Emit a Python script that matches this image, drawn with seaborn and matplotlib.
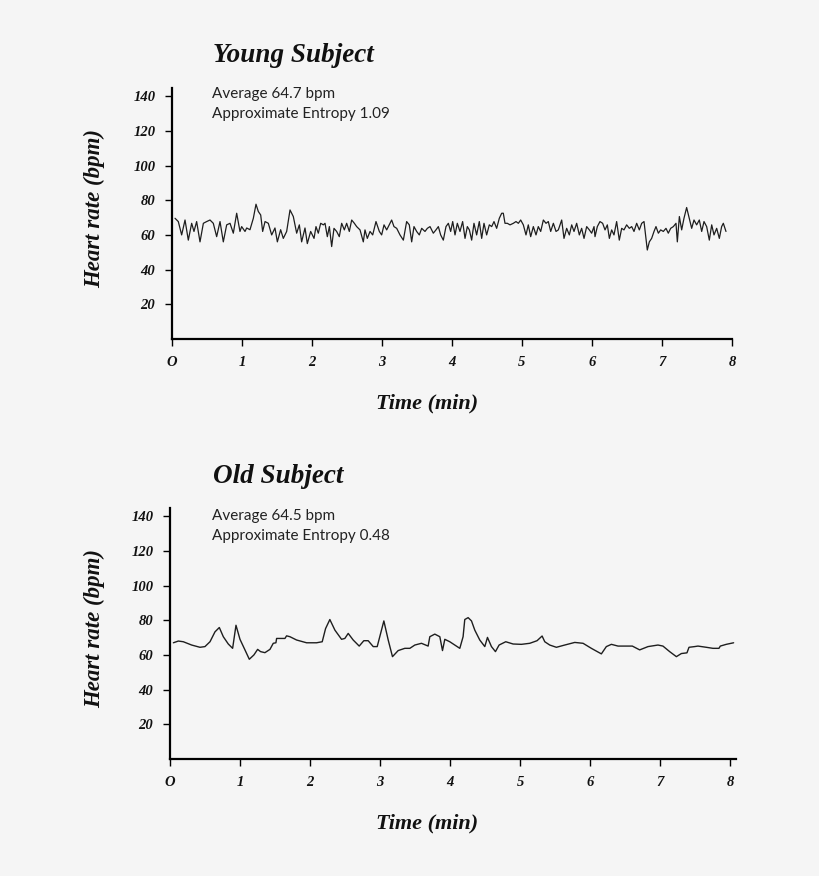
import matplotlib
matplotlib.use("Agg")
import matplotlib.pyplot as plt
import seaborn as sns
import pandas as pd

# ---------------- data ----------------
young_time = [
    0.043, 0.090, 0.138, 0.186, 0.233, 0.281, 0.314, 0.352, 0.400, 0.448, 0.495, 0.543,
    0.590, 0.638, 0.686, 0.733, 0.781, 0.829, 0.876, 0.924, 0.971, 0.995, 1.043, 1.067,
    1.114, 1.162, 1.200, 1.233, 1.267, 1.295, 1.329, 1.376, 1.424, 1.471, 1.505, 1.552,
    1.590, 1.638, 1.686, 1.733, 1.781, 1.819, 1.852, 1.900, 1.933, 1.981, 2.029,
    2.057, 2.090, 2.124, 2.162, 2.186, 2.219, 2.248, 2.281, 2.314, 2.352, 2.390, 2.424,
    2.462, 2.495, 2.533, 2.567, 2.605, 2.638, 2.686, 2.733, 2.757, 2.790, 2.829, 2.867,
    2.914, 2.962, 2.995, 3.029, 3.067, 3.114, 3.138, 3.171, 3.210, 3.257, 3.305, 3.352,
    3.390, 3.424, 3.457, 3.495, 3.533, 3.567, 3.614, 3.648, 3.686, 3.733, 3.771, 3.805,
    3.838, 3.876, 3.914, 3.948, 3.981,
    4.010, 4.043, 4.076, 4.114, 4.152, 4.186, 4.219, 4.248, 4.281, 4.314, 4.352, 4.390,
    4.424, 4.457, 4.495, 4.533, 4.567, 4.600, 4.638, 4.676, 4.710, 4.733, 4.757, 4.790,
    4.829, 4.876, 4.914, 4.948, 4.981, 5.019, 5.057, 5.090, 5.124, 5.162, 5.200, 5.233,
    5.267, 5.305, 5.343, 5.376, 5.410, 5.448, 5.486, 5.519, 5.567, 5.600, 5.638, 5.676,
    5.710, 5.743, 5.781, 5.819, 5.852, 5.886, 5.924, 5.962, 5.995, 6.029,
    6.043, 6.076, 6.114, 6.152, 6.186, 6.219, 6.248, 6.281, 6.314, 6.352, 6.390, 6.424,
    6.457, 6.495, 6.533, 6.567, 6.600, 6.638, 6.676, 6.710, 6.743, 6.771, 6.790, 6.819,
    6.852, 6.886, 6.914, 6.948, 6.981, 7.019, 7.057, 7.090, 7.124, 7.162, 7.200, 7.219,
    7.248, 7.281, 7.314, 7.352, 7.390, 7.424, 7.457, 7.495, 7.533, 7.567, 7.600, 7.638,
    7.676, 7.710, 7.743, 7.781, 7.819, 7.852, 7.876, 7.914,
]
young_hr = [
    69.6, 67.7, 60.0, 68.6, 57.0, 66.7, 62.0, 67.7, 56.0, 66.7, 67.7, 68.6,
    66.7, 59.0, 67.7, 56.0, 65.8, 66.7, 61.0, 72.5, 62.0, 64.8, 62.0, 64.0,
    63.0, 69.6, 77.7, 73.5, 71.5, 62.0, 67.7, 66.7, 60.0, 64.0, 56.0, 63.0,
    58.0, 62.0, 74.4, 70.6, 61.0, 65.8, 56.0, 64.0, 55.0, 62.0, 58.0,
    64.8, 61.0, 66.7, 65.8, 66.7, 59.0, 64.8, 53.3, 63.8, 62.0, 59.0, 66.7,
    62.9, 66.7, 62.0, 68.6, 66.7, 64.8, 62.9, 56.0, 62.9, 58.0, 62.0, 60.0,
    67.7, 62.0, 60.0, 65.8, 62.9, 66.7, 68.6, 64.8, 63.8, 60.0, 57.0, 67.7,
    65.8, 56.0, 64.8, 62.0, 60.0, 63.8, 62.0, 63.8, 64.8, 61.0, 62.9, 64.8,
    60.0, 57.0, 64.8, 66.7, 62.0,
    67.7, 60.0, 66.7, 62.0, 67.7, 58.0, 64.8, 62.9, 57.0, 66.7, 60.0, 67.7,
    58.0, 66.7, 60.0, 65.8, 64.8, 67.7, 63.8, 69.6, 72.5, 72.5, 66.7, 66.7,
    65.8, 66.7, 67.7, 66.7, 68.6, 65.8, 60.0, 65.8, 59.0, 64.8, 60.0, 64.8,
    62.0, 68.6, 66.7, 67.7, 62.0, 66.7, 62.0, 62.9, 68.6, 58.0, 63.8, 60.0,
    65.8, 62.0, 66.7, 60.0, 63.8, 58.0, 64.8, 62.9, 61.0, 64.8,
    59.0, 64.8, 67.7, 66.7, 62.9, 65.8, 58.0, 62.9, 60.0, 67.7, 57.0, 63.8,
    62.9, 65.8, 63.8, 64.8, 62.0, 66.7, 62.9, 66.7, 67.7, 58.0, 51.3, 56.0,
    58.0, 62.0, 64.8, 61.0, 62.9, 62.0, 63.8, 61.0, 63.8, 64.8, 66.7, 56.0,
    70.6, 62.9, 69.6, 75.8, 69.6, 63.8, 68.6, 65.8, 68.6, 62.0, 67.7, 64.8,
    57.0, 65.8, 60.0, 63.8, 58.0, 64.8, 66.7, 62.0,
]

old_time = [
    0.048, 0.119, 0.190, 0.309, 0.428, 0.499, 0.571, 0.642, 0.704, 0.761, 0.832, 0.894,
    0.942, 0.999, 1.070, 1.132, 1.198, 1.251, 1.293, 1.355, 1.427, 1.474, 1.512, 1.522,
    1.593, 1.641, 1.664, 1.712, 1.807, 1.950, 2.092, 2.173, 2.221, 2.282, 2.354, 2.449,
    2.496, 2.544, 2.615, 2.701, 2.767, 2.829, 2.901, 2.958, 3.053, 3.115, 3.176, 3.257,
    3.352, 3.424, 3.495, 3.590, 3.685, 3.709, 3.780, 3.852, 3.890, 3.923, 3.994, 4.137,
    4.184, 4.208, 4.256, 4.304, 4.351, 4.422, 4.494, 4.532, 4.589, 4.646, 4.698, 4.793,
    4.898, 5.016, 5.136, 5.240, 5.312, 5.350, 5.421, 5.516, 5.635, 5.778, 5.897, 6.015,
    6.158, 6.229, 6.301, 6.396, 6.515, 6.600, 6.705, 6.824, 6.966, 7.037, 7.133, 7.229,
    7.300, 7.380, 7.409, 7.489, 7.537, 7.656, 7.751, 7.837, 7.856, 7.941, 8.046,
]
old_hr = [
    67.0, 68.0, 67.6, 65.7, 64.4, 64.8, 67.6, 73.3, 75.8, 70.5, 66.3, 63.8,
    77.1, 69.0, 62.9, 57.5, 60.0, 63.2, 61.9, 61.3, 63.2, 66.7, 67.0, 69.5,
    69.5, 69.5, 71.0, 70.5, 68.6, 67.0, 67.0, 67.6, 75.2, 80.4, 74.3, 69.0,
    69.5, 72.4, 68.6, 65.1, 68.2, 68.2, 64.8, 64.8, 79.6, 68.6, 59.0, 62.5,
    63.8, 63.8, 65.7, 66.7, 65.1, 70.5, 72.0, 70.5, 62.5, 69.0, 67.6, 63.8,
    70.5, 80.4, 81.5, 79.6, 74.3, 68.6, 64.8, 70.1, 64.8, 61.9, 65.7, 67.6,
    66.3, 66.1, 66.7, 68.2, 70.9, 67.6, 65.7, 64.4, 65.7, 67.2, 66.7, 63.8,
    60.6, 64.8, 66.1, 65.1, 65.1, 65.1, 62.9, 64.8, 65.7, 65.1, 61.9, 59.0,
    60.8, 61.2, 64.4, 64.8, 65.1, 64.4, 63.8, 63.8, 65.1, 66.1, 67.0,
]

titles = ["Young Subject", "Old Subject"]
notes = [["Average 64.7 bpm", "Approximate Entropy 1.09"],
         ["Average 64.5 bpm", "Approximate Entropy 0.48"]]
y_ticks = [20, 40, 60, 80, 100, 120, 140]
x_ticks = [0, 1, 2, 3, 4, 5, 6, 7, 8]
x_ticklabels = ["O", "1", "2", "3", "4", "5", "6", "7", "8"]

# ---------------- style ----------------
BG = "#f5f5f5"
sns.set_theme(style="white")
plt.rcParams["font.family"] = ["Liberation Serif", "DejaVu Serif"]
plt.rcParams["figure.facecolor"] = BG
plt.rcParams["axes.facecolor"] = BG

W, H = 820, 876
fig = plt.figure(figsize=(W / 100, H / 100), dpi=100)

serif = dict(family=["Liberation Serif", "DejaVu Serif"], weight="bold", style="italic")
sans = dict(family=["Lato", "DejaVu Sans"])

def px(x, y):
    return x / W, 1 - y / H

panels = [
    dict(t=young_time, hr=young_hr, left=172, right=732, bottom=339, xmax=8.0,
         title_y=62, note_y=98, ylab_y=209, xlab_y=403, lw=0.9),
    dict(t=old_time, hr=old_hr, left=170, right=736, bottom=759, xmax=8.08,
         title_y=483, note_y=520, ylab_y=629, xlab_y=823, lw=1.0),
]

for i, p in enumerate(panels):
    top = p["bottom"] - 251
    ax = fig.add_axes([p["left"] / W, 1 - p["bottom"] / H,
                       (p["right"] - p["left"]) / W, (p["bottom"] - top) / H])
    df = pd.DataFrame({"Time (min)": p["t"], "Heart rate (bpm)": p["hr"]})
    sns.lineplot(data=df, x="Time (min)", y="Heart rate (bpm)", ax=ax,
                 color="#1e1e1e", linewidth=p["lw"], estimator=None)
    ax.set_xlim(0, p["xmax"])
    ax.set_ylim(0, 144.7)
    ax.set_xlabel("")
    ax.set_ylabel("")
    for s in ["top", "right"]:
        ax.spines[s].set_visible(False)
    for s in ["left", "bottom"]:
        ax.spines[s].set_color("black")
        ax.spines[s].set_linewidth(1.6)
    ax.set_yticks(y_ticks)
    ax.set_yticklabels([str(v) for v in y_ticks])
    ax.set_xticks(x_ticks)
    ax.set_xticklabels(x_ticklabels)
    ax.tick_params(axis="y", direction="out", length=5, width=1.0, color="black", pad=7)
    ax.tick_params(axis="x", direction="out", length=5, width=1.0, color="black", pad=7)
    ax.tick_params(left=True, bottom=True)
    for lab in ax.get_yticklabels() + ax.get_xticklabels():
        lab.set_fontfamily(serif["family"])
        lab.set_fontweight("bold")
        lab.set_fontstyle("italic")
        lab.set_fontsize(10.5)
        lab.set_color("#111111")

    x, y = px(213, p["title_y"])
    fig.text(x, y, titles[i], fontsize=19.5, color="#111111", va="baseline", ha="left", **serif)
    for k, line in enumerate(notes[i]):
        x, y = px(212, p["note_y"] + 20 * k)
        fig.text(x, y, line, fontsize=11, color="#222222", va="baseline", ha="left", **sans)
    x, y = px(95, p["ylab_y"])
    fig.text(x, y, "Heart rate (bpm)", fontsize=16.5, rotation=90, color="#111111",
             va="center", ha="center", **serif)
    x, y = px(427, p["xlab_y"])
    fig.text(x, y, "Time (min)", fontsize=16, color="#111111", va="center", ha="center", **serif)

fig.savefig("out.png", dpi=100, facecolor=BG)
